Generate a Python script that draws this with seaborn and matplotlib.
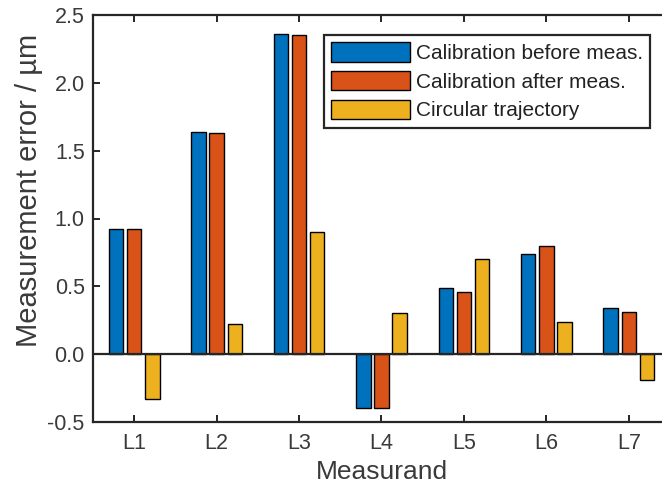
import matplotlib
matplotlib.use("Agg")
import matplotlib.pyplot as plt
import seaborn as sns
import pandas as pd
from matplotlib.ticker import FormatStrFormatter

categories = ["L1", "L2", "L3", "L4", "L5", "L6", "L7"]
series_names = ["Calibration before meas.", "Calibration after meas.", "Circular trajectory"]
before_vals = [0.92, 1.64, 2.36, -0.40, 0.485, 0.74, 0.34]
after_vals = [0.92, 1.63, 2.35, -0.40, 0.455, 0.80, 0.31]
circular_vals = [-0.33, 0.22, 0.90, 0.30, 0.705, 0.24, -0.19]
colors = ["#0072BD", "#D95319", "#EDB120"]
yticks = [-0.5, 0.0, 0.5, 1.0, 1.5, 2.0, 2.5]

rows = []
for name, vals in zip(series_names, [before_vals, after_vals, circular_vals]):
    for c, v in zip(categories, vals):
        rows.append({"Measurand": c, "Series": name, "Value": v})
df = pd.DataFrame(rows)

sns.set_theme(style="white")
plt.rcParams["font.family"] = ["Liberation Sans", "DejaVu Sans"]
axcol = "#262626"
txtcol = "#3a3a3a"

fig = plt.figure(figsize=(6.62, 4.95), dpi=100)
ax = fig.add_axes([93 / 662, (495 - 422) / 495, (670 - 93) / 662, (422 - 15) / 495])

sns.barplot(data=df, x="Measurand", y="Value", hue="Series", order=categories,
            hue_order=series_names, palette=colors, saturation=1, width=0.66,
            gap=0.2, edgecolor="black", linewidth=1.0, ax=ax, errorbar=None)

ax.axhline(0, color=axcol, lw=1.6, zorder=3)
ax.set_xlim(-0.5, 6.5)
ax.set_ylim(-0.5, 2.5)
ax.set_yticks(yticks)
ax.yaxis.set_major_formatter(FormatStrFormatter("%.1f"))
ax.set_yticklabels([f"{t:.1f}" for t in yticks])

for s in ["left", "bottom", "top", "right"]:
    ax.spines[s].set_visible(True)
    ax.spines[s].set_color(axcol)
    ax.spines[s].set_linewidth(1.6)

ax.tick_params(axis="both", direction="in", length=5, width=1.4, color=axcol,
               labelsize=15.5, labelcolor=txtcol, top=True, right=True,
               left=True, bottom=True)
ax.tick_params(axis="x", pad=8)
ax.tick_params(axis="y", pad=6)

ax.set_xlabel("Measurand", fontsize=19, color=txtcol, labelpad=4)
ax.set_ylabel("Measurement error / µm", fontsize=21, color=txtcol)
ax.yaxis.set_label_coords(-0.087, 0.57)

leg = ax.legend(loc="upper right", bbox_to_anchor=(650 / 662, 1 - 35 / 495),
                bbox_transform=fig.transFigure, fontsize=15, frameon=True,
                fancybox=False, framealpha=1, edgecolor=axcol, borderpad=0.35,
                borderaxespad=0, handlelength=3.8, handleheight=1.05,
                handletextpad=0.25, labelspacing=0.38, title=None)
leg.get_frame().set_linewidth(1.6)
for t in leg.get_texts():
    t.set_color("#222222")

fig.savefig("out.png", dpi=100)
